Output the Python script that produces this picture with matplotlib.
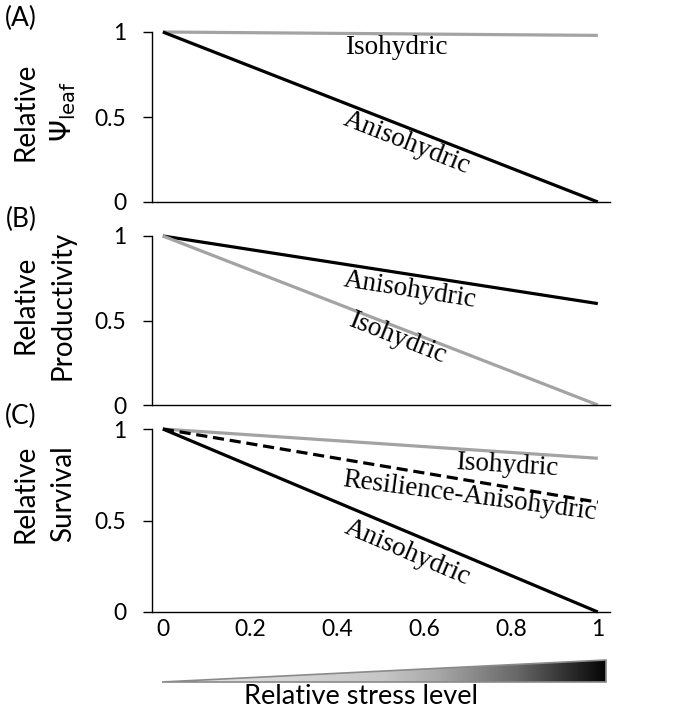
import numpy as np
import matplotlib
matplotlib.use("Agg")
import matplotlib.pyplot as plt
from matplotlib.colors import LinearSegmentedColormap
from matplotlib.patches import Polygon

# ---- data ----
stress = [0, 1]
a_iso = [1, 0.98]
a_aniso = [1, 0]
b_aniso = [1, 0.6]
b_iso = [1, 0]
c_iso = [1, 0.84]
c_resil = [1, 0.6]
c_aniso = [1, 0]
x_ticks = [0, 0.2, 0.4, 0.6, 0.8, 1]
x_ticklabels = ["0", "0.2", "0.4", "0.6", "0.8", "1"]
y_ticks = [0, 0.5, 1]
y_ticklabels = ["0", "0.5", "1"]

W, H = 700, 717
fig = plt.figure(figsize=(W / 100, H / 100), dpi=100)

SANS = "Lato"
SERIF = "Liberation Serif"
GRAY = "#a3a3a3"
LW = 2.3
TFS = 19.5  # annotation font size
plt.rcParams["mathtext.fontset"] = "dejavusans"

def frac_axes(left, right, top, bottom):
    return fig.add_axes([left / W, 1 - bottom / H, (right - left) / W, (bottom - top) / H])

def style(ax, xlabels=False):
    ax.set_xlim(-0.025, 1.028)
    ax.set_ylim(0, 1)
    for s in ["top", "right"]:
        ax.spines[s].set_visible(False)
    ax.spines["left"].set_linewidth(1.0)
    ax.spines["bottom"].set_linewidth(1.0)
    ax.set_yticks(y_ticks)
    ax.set_yticklabels(y_ticklabels, fontsize=16.5, family=SANS)
    ax.tick_params(axis="y", direction="out", length=6.5, width=1, pad=12)
    ax.set_xticks(x_ticks)
    if xlabels:
        ax.set_xticklabels(x_ticklabels, fontsize=16.5, family=SANS)
    else:
        ax.set_xticklabels([])
    ax.tick_params(axis="x", length=0, pad=5)
    ax.patch.set_visible(False)

axA = frac_axes(152, 610, 32, 202)
axB = frac_axes(152, 610, 236, 405)
axC = frac_axes(152, 610, 429, 612)

# Panel A
axA.plot(stress, a_iso, color=GRAY, lw=LW, clip_on=False, solid_capstyle="butt")
axA.plot(stress, a_aniso, color="black", lw=LW, clip_on=False, solid_capstyle="butt")
style(axA)
axA.text(0.536, 0.906, "Isohydric", fontsize=TFS, family=SERIF, ha="center", va="center")
axA.text(0.561, 0.347, "Anisohydric", fontsize=TFS, family=SERIF, ha="center", va="center", rotation=-21.5)

# Panel B
axB.plot(stress, b_aniso, color="black", lw=LW, clip_on=False, solid_capstyle="butt")
axB.plot(stress, b_iso, color=GRAY, lw=LW, clip_on=False, solid_capstyle="butt")
style(axB)
axB.text(0.568, 0.68, "Anisohydric", fontsize=TFS, family=SERIF, ha="center", va="center", rotation=-9)
axB.text(0.538, 0.396, "Isohydric", fontsize=TFS, family=SERIF, ha="center", va="center", rotation=-21.5)

# Panel C
axC.plot(stress, c_iso, color=GRAY, lw=LW, clip_on=False, solid_capstyle="butt")
axC.plot(stress, c_resil, color="black", lw=LW, clip_on=False, dashes=(3.5, 1.8))
axC.plot(stress, c_aniso, color="black", lw=LW, clip_on=False, solid_capstyle="butt")
style(axC, xlabels=True)
axC.text(0.79, 0.80, "Isohydric", fontsize=TFS, family=SERIF, ha="center", va="center", rotation=-3.5)
axC.text(0.706, 0.632, "Resilience-Anisohydric", fontsize=TFS, family=SERIF, ha="center", va="center", rotation=-7.5)
axC.text(0.561, 0.322, "Anisohydric", fontsize=TFS, family=SERIF, ha="center", va="center", rotation=-23)

# panel letters
for lab, y in [("(A)", 18), ("(B)", 219), ("(C)", 416)]:
    fig.text(21 / W, 1 - y / H, lab, fontsize=19, family=SANS, ha="center", va="center")

# y labels
ylabs = [(r"$\Psi_{\mathrm{leaf}}$", 112), ("Productivity", 305), ("Survival", 494)]
for lab, y in ylabs:
    fig.text(25 / W, 1 - y / H, "Relative", fontsize=20, family=SANS, rotation=90, ha="center", va="center")
    fig.text(63 / W, 1 - y / H, lab, fontsize=20, family=SANS, rotation=90, ha="center", va="center")

# gradient triangle
axG = frac_axes(158, 610, 656, 686)
axG.set_xlim(158, 610)
axG.set_ylim(686, 656)
axG.axis("off")
cmap = LinearSegmentedColormap.from_list(
    "g", [(0, "#e8e8e8"), (0.5, "#c6c6c6"), (0.62, "#a8a8a8"), (0.8, "#686868"), (1.0, "#050505")])
grad = np.linspace(0, 1, 256)[None, :]
im = axG.imshow(grad, cmap=cmap, extent=[162, 606, 682, 660], aspect="auto")
tri = Polygon([[162, 682], [606, 660], [606, 682]], closed=True, facecolor="none",
              edgecolor="#8a8a8a", lw=1.2)
axG.add_patch(tri)
im.set_clip_path(tri)

fig.text(361 / W, 1 - 697 / H, "Relative stress level", fontsize=19.5, family=SANS, ha="center", va="center")

fig.savefig("out.png", dpi=100)
